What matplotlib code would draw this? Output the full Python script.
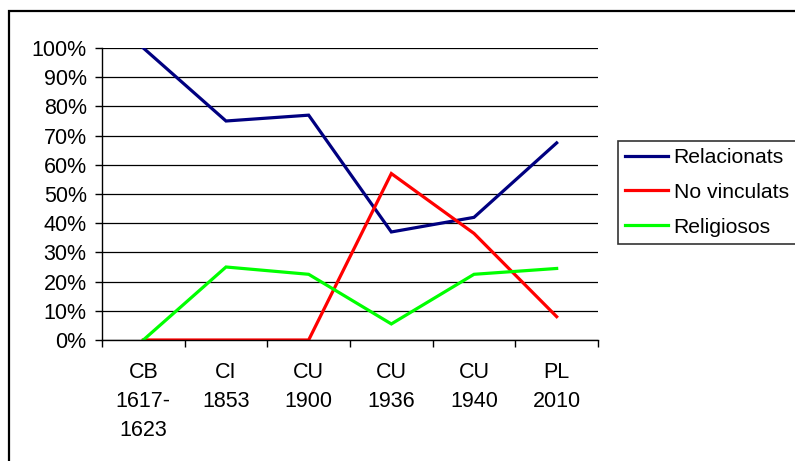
import matplotlib.pyplot as plt
from matplotlib.patches import Rectangle
from matplotlib.ticker import PercentFormatter

plt.rcParams['font.family'] = ['Liberation Sans', 'DejaVu Sans']

# categories and series (percent)
categories = ['CB\n1617-\n1623', 'CI\n1853', 'CU\n1900', 'CU\n1936', 'CU\n1940', 'PL\n2010']
relacionats = [100, 75, 77, 37, 42, 67.5]
no_vinculats = [0, 0, 0, 57, 36.5, 8]
religiosos = [0, 25, 22.5, 5.5, 22.5, 24.5]

fig = plt.figure(figsize=(7.95, 4.61), dpi=100)
ax = fig.add_axes([102/795, 1 - 340/461, 496/795, 292/461])

x = range(len(categories))
ax.plot(x, relacionats, color='#000080', lw=2.3, label='Relacionats', solid_joinstyle='miter')
ax.plot(x, no_vinculats, color='#FF0000', lw=2.3, label='No vinculats', solid_joinstyle='miter')
ax.plot(x, religiosos, color='#00FF00', lw=2.3, label='Religiosos', solid_joinstyle='miter')

ax.set_xlim(-0.5, len(categories) - 0.5)
ax.set_ylim(0, 100)
ax.set_yticks(range(0, 101, 10))
ax.yaxis.set_major_formatter(PercentFormatter(decimals=0))
ax.grid(axis='y', color='black', lw=0.9)
ax.set_axisbelow(True)

# ticks between categories, labels at category centres
ax.set_xticks([i - 0.5 for i in range(len(categories) + 1)])
ax.set_xticklabels([])
ax.set_xticks(list(x), minor=True)
ax.set_xticklabels(categories, minor=True, fontsize=15.5, linespacing=1.5, va='top')
ax.tick_params(axis='x', which='minor', length=0, pad=16)
ax.tick_params(axis='x', which='major', length=5, width=1, direction='out')
ax.tick_params(axis='y', length=5, width=1, direction='out', labelsize=15.5, pad=6)

for s in ['top', 'right']:
    ax.spines[s].set_visible(False)
ax.spines['left'].set_linewidth(1)
ax.spines['bottom'].set_linewidth(1)
ax.set_facecolor('white')

leg = fig.legend(loc='upper left', bbox_to_anchor=(618/795, 1 - 141/461), borderaxespad=0,
                 prop={'size': 15.2}, frameon=True, fancybox=False, edgecolor='black',
                 handlelength=2.05, handletextpad=0.25, labelspacing=0.75, borderpad=0.33)
leg.get_frame().set_linewidth(1.2)

# outer chart border (cropped at right and bottom)
fig.patches.append(Rectangle((9/795, -0.1), 1.2, 1 - 11/461 + 0.1, transform=fig.transFigure,
                             fill=False, edgecolor='black', lw=1.6))

fig.savefig('out.png', dpi=100)
